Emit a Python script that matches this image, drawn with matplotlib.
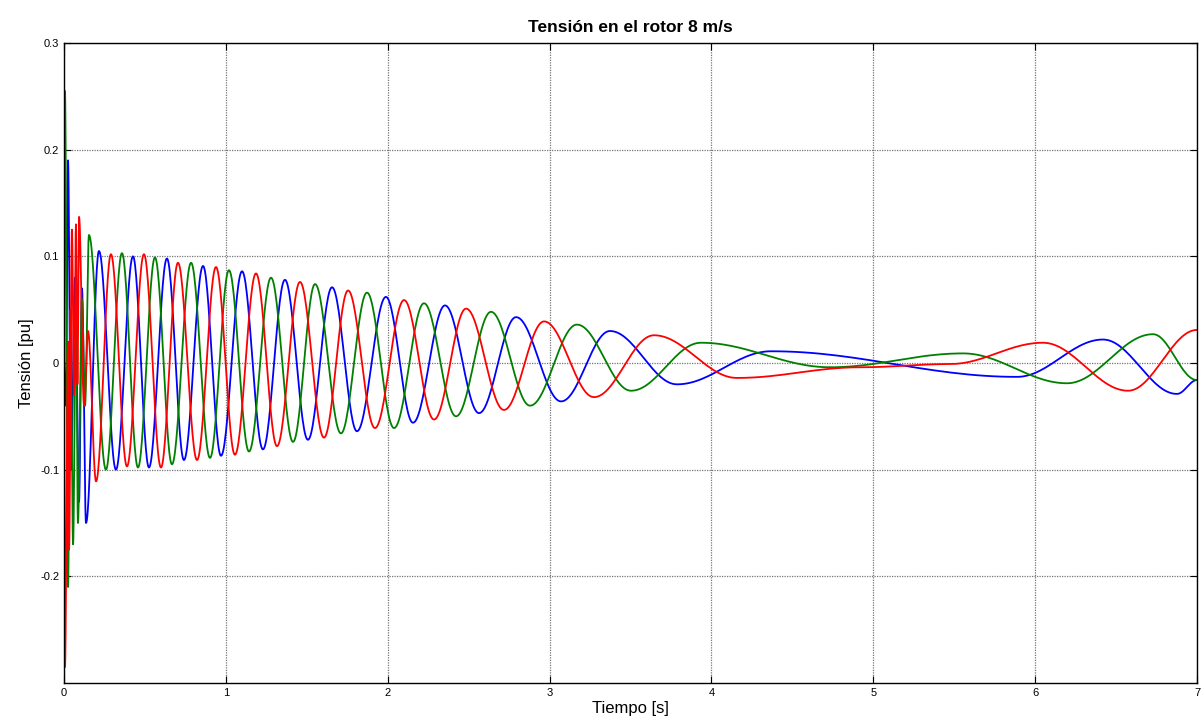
import numpy as np
import matplotlib
matplotlib.use("Agg")
import matplotlib.pyplot as plt

plt.rcParams['font.family'] = ['Liberation Sans', 'DejaVu Sans']

# extrema: time [s], voltage [pu]
blue_t = [0, 0.012, 0.025, 0.043, 0.068, 0.093, 0.111, 0.136, 0.216, 0.321, 0.426, 0.525,
          0.636, 0.741, 0.859, 0.970, 1.100, 1.229, 1.365, 1.507, 1.656, 1.810, 1.989,
          2.156, 2.354, 2.564, 2.793, 3.071, 3.373, 3.787, 4.368, 5.888, 6.419, 6.876, 7.0]
blue_v = [0, -0.04, 0.19, -0.10, 0.08, -0.13, 0.07, -0.15, 0.105, -0.10, 0.100, -0.098,
          0.098, -0.091, 0.091, -0.087, 0.086, -0.081, 0.078, -0.072, 0.071, -0.064, 0.062,
          -0.056, 0.054, -0.047, 0.043, -0.036, 0.030, -0.020, 0.011, -0.013, 0.022, -0.029, -0.016]

green_t = [0, 0.006, 0.025, 0.040, 0.056, 0.074, 0.086, 0.111, 0.130, 0.154, 0.259, 0.358,
           0.457, 0.562, 0.667, 0.785, 0.902, 1.019, 1.143, 1.279, 1.415, 1.551, 1.711,
           1.872, 2.039, 2.224, 2.422, 2.638, 2.879, 3.169, 3.503, 3.935, 4.733, 5.554,
           6.197, 6.728, 7.0]
green_v = [0, 0.255, -0.21, 0.05, -0.17, 0.06, -0.15, 0.06, -0.04, 0.12, -0.10, 0.103,
           -0.098, 0.099, -0.095, 0.094, -0.089, 0.087, -0.083, 0.080, -0.074, 0.074, -0.066,
           0.066, -0.061, 0.056, -0.050, 0.048, -0.040, 0.036, -0.026, 0.019, -0.004, 0.009,
           -0.019, 0.027, -0.016]

red_t = [0, 0.006, 0.025, 0.031, 0.049, 0.062, 0.074, 0.083, 0.093, 0.124, 0.148, 0.198,
         0.290, 0.389, 0.494, 0.599, 0.704, 0.822, 0.939, 1.056, 1.186, 1.316, 1.458,
         1.606, 1.755, 1.921, 2.101, 2.286, 2.484, 2.718, 2.966, 3.274, 3.645, 4.158,
         4.918, 5.474, 6.048, 6.574, 7.0]
red_v = [0, -0.285, 0.02, -0.175, 0.125, -0.03, 0.13, -0.02, 0.137, -0.04, 0.03, -0.111,
         0.102, -0.097, 0.102, -0.098, 0.094, -0.091, 0.090, -0.086, 0.084, -0.078, 0.076,
         -0.070, 0.068, -0.061, 0.059, -0.053, 0.051, -0.044, 0.039, -0.032, 0.026, -0.014,
         -0.004, -0.001, 0.019, -0.026, 0.031]

x_ticks = [0, 1, 2, 3, 4, 5, 6, 7]
y_ticks = [-0.2, -0.1, 0, 0.1, 0.2, 0.3]
y_labels = ['-0.2', '-0.1', '0', '0.1', '0.2', '0.3']


def wave(te, ve, n=30):
    # smooth half-cosine stroke from one extremum to the next
    tt, vv = [], []
    for i in range(len(te) - 1):
        s = np.linspace(0, 1, n, endpoint=False)
        w = (1 - np.cos(np.pi * s)) / 2
        tt.append(te[i] + (te[i + 1] - te[i]) * s)
        vv.append(ve[i] + (ve[i + 1] - ve[i]) * w)
    tt.append([te[-1]])
    vv.append([ve[-1]])
    return np.concatenate(tt), np.concatenate(vv)


fig = plt.figure(figsize=(12.03, 7.27), dpi=100)
ax = fig.add_axes([64 / 1203, 1 - 683 / 727, (1197 - 64) / 1203, (683 - 43) / 727])

for te, ve, c in [(blue_t, blue_v, '#0000ff'), (green_t, green_v, '#008000'), (red_t, red_v, '#ff0000')]:
    x, y = wave(te, ve)
    ax.plot(x, y, color=c, lw=1.3)

ax.set_xlim(0, 7)
ax.set_ylim(-0.3, 0.3)
ax.set_xticks(x_ticks)
ax.set_yticks(y_ticks)
ax.set_yticklabels(y_labels)
ax.tick_params(direction='in', labelsize=8, top=True, right=True, length=5)
ax.grid(True, color='#777777', linestyle=(0, (1, 1)), lw=0.9)
for s in ax.spines.values():
    s.set_linewidth(1.0)

ax.set_title('Tensión en el rotor 8 m/s', fontsize=12.5, fontweight='bold', pad=8)
ax.set_xlabel('Tiempo [s]', fontsize=12, labelpad=2)
ax.set_ylabel('Tensión [pu]', fontsize=12, labelpad=4)

fig.savefig('out.png', dpi=100)
